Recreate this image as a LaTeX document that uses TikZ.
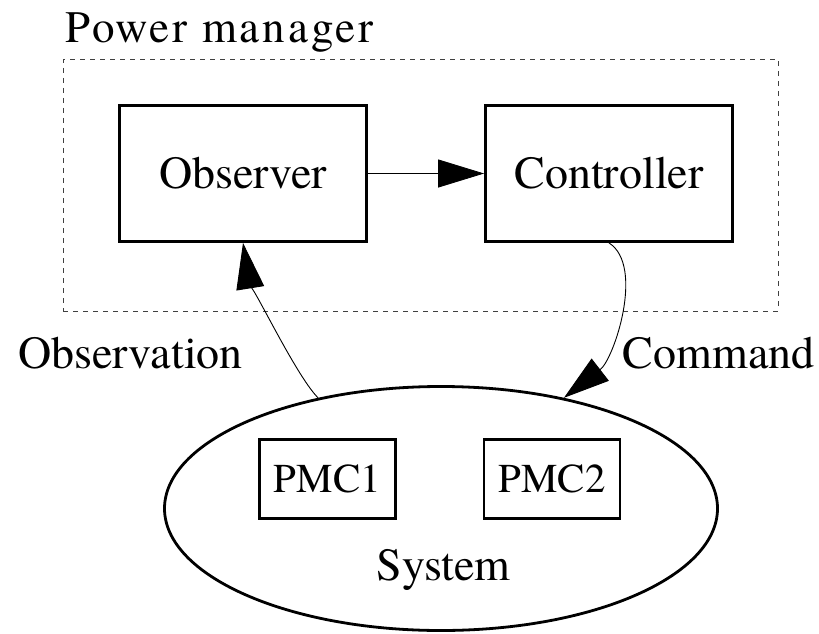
\documentclass[tikz,border=0pt]{standalone}
\usepackage{fontspec}
\setmainfont{texgyretermes-regular.otf}
\usetikzlibrary{arrows.meta,shapes.geometric}
\begin{document}
\begin{tikzpicture}[x=1pt,y=-1pt,
  cluster/.style={draw=black!75, line width=0.9pt, dash pattern=on 5pt off 5pt,
    inner sep=0pt, minimum width=715pt, minimum height=251.5pt},
  bigbox/.style={draw, line width=2.8pt, inner sep=0pt, minimum width=247pt,
    minimum height=136pt, font=\fontsize{46}{50}\selectfont},
  pmcbox/.style={draw, line width=2.6pt, inner sep=0pt, minimum width=136pt,
    minimum height=79pt, font=\fontsize{41}{45}\selectfont},
  sysshape/.style={draw, ellipse, line width=2.8pt, inner sep=0pt,
    minimum width=553pt, minimum height=244pt},
  label/.style={inner sep=0pt, font=\fontsize{46}{50}\selectfont},
  flow/.style={line width=0.9pt, -{Triangle[length=46pt,width=28pt]}}
]
\useasboundingbox (0,0) rectangle (819,634);

% power manager cluster
\node[cluster] (pm) at (420.5,185.25) {};
\node[inner sep=0pt, anchor=base west,
  font=\addfontfeatures{LetterSpace=6.5}\fontsize{45}{50}\selectfont]
  (pmtitle) at (65,43) {Power manager};

\node[bigbox] (obs) at (243,173.5) {Observer};
\node[bigbox] (ctrl) at (609,173.5) {Controller};

% the managed system
\node[sysshape] (sys) at (441,508.5) {};
\node[pmcbox] (pmc1) at (327.5,479) {PMC1};
\node[pmcbox] (pmc2) at (552,479) {PMC2};
\node[label, anchor=base] (systxt) at (443.5,580) {System};

% connectors
\draw[flow] (obs) -- (ctrl);
\draw[flow] (sys.138) .. controls (295,375) and (248,274) .. (obs.south);
\draw[flow] (ctrl.south) .. controls (645,266) and (614,359) .. (sys.42);

\node[label, anchor=base west] (obslbl) at (18,368) {Observation};
\node[label, anchor=base west] (cmdlbl) at (622.7,368) {Command};
\end{tikzpicture}
\end{document}
